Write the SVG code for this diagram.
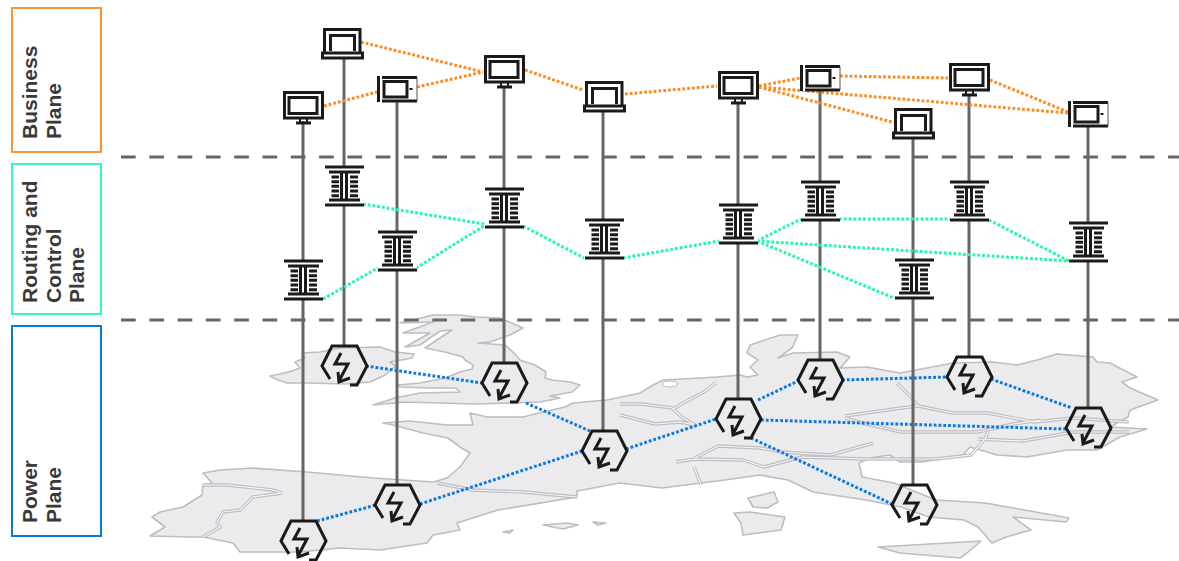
<svg xmlns="http://www.w3.org/2000/svg" width="1179" height="561" viewBox="0 0 1179 561">
<style>
.land{fill:#ebebee;stroke:#bdbdc2;stroke-width:1.6;stroke-linejoin:round}
.b1{fill:none;stroke:#bdbdc2;stroke-width:3.4;stroke-linejoin:round}
.b2{fill:none;stroke:#f7f7f9;stroke-width:1.2;stroke-linejoin:round}
.dash{stroke:#666;stroke-width:3;stroke-dasharray:14.7 13.6}
.stem{stroke:#666;stroke-width:3}
.o,.g,.p{fill:none;stroke-width:3;stroke-dasharray:2.8 2}
.o{stroke:#ff8a1f}.g{stroke:#1dfca0}.p{stroke:#0a7ae0}
.i{fill:none;stroke:#1a1a1a;stroke-width:3}
.t{fill:none;stroke:#1a1a1a;stroke-width:2}
.w{fill:#fff;stroke:none}
.lab{font:bold 21px "Liberation Sans",Arial,sans-serif;fill:#3a3a3a}
.box{fill:#fff;stroke-width:2}
</style>
<defs>
<g id="monitor"><rect x="-20" y="-15" width="40" height="30" class="w"/><rect x="-18.500" y="-13.500" width="38" height="25.500" class="i"/><rect x="-14" y="-8.500" width="28" height="16" class="i"/><path d="M-3,12v4M4,12v4" class="t"/><path d="M-7,17H8" class="i"/></g>
<g id="laptop"><rect x="-21" y="-15" width="38" height="30" class="w"/><path d="M-19.500,9V-13.500H16V9" class="i"/><path d="M-13.500,8V-7.500H10.500V8" class="i"/><rect x="-21.500" y="10" width="40" height="5" class="i"/></g>
<g id="tablet"><rect x="-19" y="-13" width="39" height="27" class="w"/><path d="M-18.500,-12V14" class="i"/><path d="M-15,-10.500H20M-15,13H20" class="i"/><path d="M20,-10.500V13" fill="none" stroke="#555" stroke-width="1"/><rect x="-13" y="-6.500" width="23" height="15.500" class="i"/><path d="M12.500,1h3" class="t"/></g>
<g id="router"><rect x="-19" y="-19" width="39" height="38" class="w"/><path d="M-19,-19H20M-15,-14H16M-15,14H16M-19,19H20M-2.500,-14V14M2.500,-14V14" class="i"/><path d="M-12.500,-9H-5M-12.500,-4.300H-5M-12.500,.3H-5M-12.500,5H-5M-12.500,9.700H-5M6,-9H14M6,-4.300H14M6,.3H14M6,5H14M6,9.700H14" class="i"/></g>
<g id="energy"><path d="M-14,13L-22,0L-12,-20H13L23,0L13,19H6" class="i"/><path d="M-3,-13L-9,-2H4L-5,15" class="i"/><path d="M-6,6L-5,16L6,12" class="i"/></g>
</defs>
<g id="map">
<path class="land" d="M270,376L280,374L292,371L300,368L295,362L305,358L302,353L320,352L340,348L380,347L395,352L414,354L412,358L390,362L396,366L385,375L370,382L345,384L310,383L287,383L278,380Z"/>
<path class="land" d="M460,315L475,317L500,318L523,328L510,335L490,342L478,343L505,345L513,352L520,360L535,365L546,372L545,378L552,380L570,382L580,385L572,392L550,396L560,398L540,402L510,403L475,404L440,403L405,402L373,405L395,398L420,393L460,392L456,388L430,388L400,387L398,385L420,383L445,378L460,372L472,369L473,365L465,360L463,357L445,352L425,348L440,338L452,330L440,331L420,345L405,347L430,333L403,333L433,322L400,323L433,315Z"/>
<path class="land" d="M150,536L165,527L152,517L160,512L183,507L202,495L203,485L212,483L203,473L220,470L253,468L307,472L373,478L433,482L447,478L460,467L470,453L460,447L448,438L423,433L393,425L383,423L410,421L447,425L473,425L470,413L487,417L523,417L543,412L565,407L573,403L607,400L640,393L653,385L663,380L717,377L740,375L747,377L758,375L750,367L758,360L747,353L750,345L780,335L798,335L792,348L778,358L793,353L837,352L850,357L840,368L867,367L900,373L953,363L993,362L1017,365L1037,360L1057,354L1093,357L1097,362L1110,363L1137,377L1122,382L1130,388L1158,400L1130,410L1128,417L1110,427L1147,429L1120,437L1097,450L1067,450L1027,457L997,455L970,447L963,455L923,462L900,462L890,455L870,458L859,463L862,477L894,483L936,500L985,503L1069,518L1066,522L1013,517L1031,530L1006,537L992,543L978,527L964,520L929,517L901,507L866,500L813,492L788,480L760,475L725,480L662,488L620,483L577,491L577,497L498,510L457,523L460,530L433,535L427,543L380,550L340,548L300,552L240,552L233,543L203,537L190,537Z"/>
<path class="land" d="M878,547L981,541L967,553L960,558L900,553Z"/>
<path class="land" d="M734,513L750,512L785,517L781,530L743,535L741,523Z"/>
<path class="land" d="M748,498L774,492L778,502L767,508L753,507Z"/>
<path class="land" d="M543,525L567,523L578,525L563,529ZM593,522L606,523L598,525ZM503,532L513,530L510,533Z"/>
<ellipse cx="670" cy="384" rx="8" ry="3" fill="#fff" stroke="#bdbdc2"/>
<g id="borders">
<path class="b1" d="M203,537L220,527L217,522L223,512L240,510L253,497L282,493"/>
<path class="b1" d="M203,485L227,485L273,490L282,493"/>
<path class="b1" d="M437,483L473,490L523,492L577,497"/>
<path class="b1" d="M620,415L655,424L680,422L695,425L683,418L673,409L685,402L704,392L716,383"/>
<path class="b1" d="M620,404L641,404L673,408"/>
<path class="b1" d="M897,383L911,397L918,406L953,413L988,413L1034,422L1073,418L1129,422"/>
<path class="b1" d="M845,416L901,408L918,406"/>
<path class="b1" d="M845,418L866,424L901,432L936,432L978,432L1013,424L1041,420"/>
<path class="b1" d="M718,446L760,448L781,452L831,455L873,443"/>
<path class="b1" d="M676,462L695,459L743,460L764,467L802,457L866,459L936,459L971,455L985,439L988,432"/>
<path class="b1" d="M978,439L1023,441L1073,432L1129,432"/>
<path class="b1" d="M694,467L701,485"/>
<path class="b1" d="M718,446L695,458"/>
<path class="b2" d="M203,537L220,527L217,522L223,512L240,510L253,497L282,493"/>
<path class="b2" d="M203,485L227,485L273,490L282,493"/>
<path class="b2" d="M437,483L473,490L523,492L577,497"/>
<path class="b2" d="M620,415L655,424L680,422L695,425L683,418L673,409L685,402L704,392L716,383"/>
<path class="b2" d="M620,404L641,404L673,408"/>
<path class="b2" d="M897,383L911,397L918,406L953,413L988,413L1034,422L1073,418L1129,422"/>
<path class="b2" d="M845,416L901,408L918,406"/>
<path class="b2" d="M845,418L866,424L901,432L936,432L978,432L1013,424L1041,420"/>
<path class="b2" d="M718,446L760,448L781,452L831,455L873,443"/>
<path class="b2" d="M676,462L695,459L743,460L764,467L802,457L866,459L936,459L971,455L985,439L988,432"/>
<path class="b2" d="M978,439L1023,441L1073,432L1129,432"/>
<path class="b2" d="M694,467L701,485"/>
<path class="b2" d="M718,446L695,458"/>
</g>
</g>
<g id="plane-boxes">
<g id="business-plane"><rect x="12" y="8" width="89" height="144" class="box" stroke="#ff9233"/><text class="lab" transform="translate(37,139) rotate(-90)">Business</text><text class="lab" transform="translate(61,139) rotate(-90)">Plane</text></g>
<g id="routing-plane"><rect x="12" y="164" width="89" height="150" class="box" stroke="#33fca8"/><text class="lab" transform="translate(37,303) rotate(-90)">Routing and</text><text class="lab" transform="translate(61,303) rotate(-90)">Control</text><text class="lab" transform="translate(84,303) rotate(-90)">Plane</text></g>
<g id="power-plane"><rect x="12" y="326" width="89" height="210" class="box" stroke="#0a7ae0"/><text class="lab" transform="translate(37,523) rotate(-90)">Power</text><text class="lab" transform="translate(61,523) rotate(-90)">Plane</text></g>
</g>
<g id="dividers"><path class="dash" d="M121,157H1179M121,320H1179"/></g>
<g id="connectors">
<path class="stem" d="M303,120V521M344,58V346M397,100V485M504,88V363M603,110V431M738,104V399M820,90V361M913,138V485M969,96V357M1088,126V408"/>
<path class="o" d="M324,106L377,92M417,87L483,72M361,42L483,72M525,70L583,90M625,94L717,86M759,86L800,78M759,87L892,122M759,87L1068,113M840,76L948,78M990,80L1068,112"/>
<path class="g" d="M323,299L378,268M416,268L484,226M363,204L484,224M523,226L584,258M623,258L719,241M757,241L801,219M757,241L894,298M757,241L1069,261M839,219L950,219M989,220L1069,261"/>
<path class="p" d="M366,366L482,383M526,403L590,431M317,521L376,505M420,504L582,451M626,449L716,419M758,400L798,381M761,420L1066,429M751,438L892,504M842,380L948,377M991,379L1072,408"/>
</g>
<g id="n1"><use href="#monitor" x="303" y="106"/><use href="#router" x="303" y="280"/><use href="#energy" x="303" y="541"/></g>
<g id="n2"><use href="#laptop" x="344" y="43"/><use href="#router" x="344" y="186"/><use href="#energy" x="344" y="366"/></g>
<g id="n3"><use href="#tablet" x="397" y="88"/><use href="#router" x="397" y="251"/><use href="#energy" x="397" y="505"/></g>
<g id="n4"><use href="#monitor" x="504" y="70"/><use href="#router" x="504" y="208"/><use href="#energy" x="504" y="383"/></g>
<g id="n5"><use href="#laptop" x="606" y="96"/><use href="#router" x="604" y="239"/><use href="#energy" x="604" y="451"/></g>
<g id="n6"><use href="#monitor" x="738" y="86"/><use href="#router" x="738" y="224"/><use href="#energy" x="738" y="419"/></g>
<g id="n7"><use href="#tablet" x="820" y="77"/><use href="#router" x="820" y="201"/><use href="#energy" x="820" y="380"/></g>
<g id="n8"><use href="#laptop" x="915" y="123"/><use href="#router" x="914" y="279"/><use href="#energy" x="914" y="505"/></g>
<g id="n9"><use href="#monitor" x="969" y="78"/><use href="#router" x="969" y="201"/><use href="#energy" x="969" y="377"/></g>
<g id="n10"><use href="#tablet" x="1088" y="113"/><use href="#router" x="1088" y="242"/><use href="#energy" x="1088" y="428"/></g>
</svg>
